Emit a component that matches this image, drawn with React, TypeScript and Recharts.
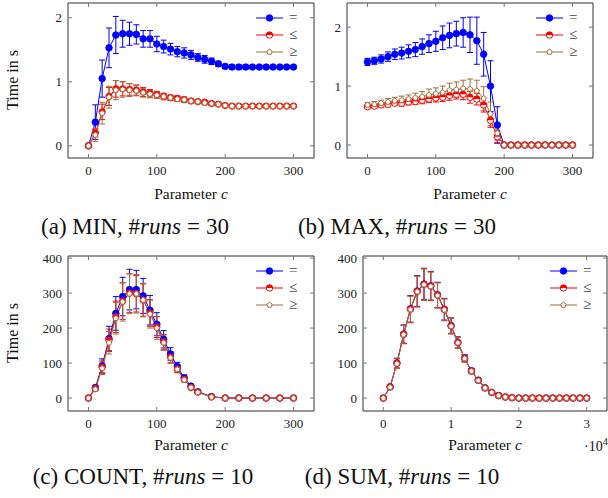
import React from "react";
import { LineChart, Line, XAxis, YAxis, ErrorBar } from "recharts";

// series: relation used in the query
const RELATIONS = ["=", "≤", "≥"];
const SERIES_KEYS = ["eq", "le", "ge"];
const COLORS = ["#0000ff", "#ff0000", "#a46d3c"];
const MARKERS = ["disc", "half", "pentagon"];

// parameter c values
const C_ALL = [0, 10, 20, 30, 40, 50, 60, 70, 80, 90, 100, 110, 120, 130, 140, 150, 160, 170, 180, 190, 200, 210, 220, 230, 240, 250, 260, 270, 280, 290, 300];
const C_COUNT = [0, 10, 20, 30, 40, 50, 60, 70, 80, 90, 100, 110, 120, 130, 140, 150, 160, 180, 200, 220, 240, 260, 280, 300];
const C_SUM = [0, 1000, 2000, 3000, 4000, 5000, 6000, 7000, 8000, 9000, 10000, 11000, 12000, 13000, 14000, 15000, 16000, 17000, 18000, 19000, 20000, 21000, 22000, 23000, 24000, 25000, 26000, 27000, 28000, 29000, 30000];

// (a) MIN
const MIN_EQ = [0, 0.37, 1.05, 1.53, 1.73, 1.75, 1.75, 1.74, 1.67, 1.67, 1.59, 1.55, 1.51, 1.47, 1.45, 1.42, 1.38, 1.35, 1.32, 1.28, 1.24, 1.23, 1.23, 1.23, 1.23, 1.23, 1.23, 1.23, 1.23, 1.23, 1.23];
const MIN_EQ_ERR = [0, 0.27, 0.29, 0.31, 0.29, 0.21, 0.18, 0.15, 0.13, 0.13, 0.12, 0.1, 0.09, 0.08, 0.08, 0.07, 0.06, 0.06, 0.05, 0.04, 0.03, 0.03, 0.03, 0.03, 0.02, 0.02, 0.02, 0.02, 0.02, 0.02, 0.02];
const MIN_LE = [0, 0.2, 0.53, 0.77, 0.89, 0.89, 0.88, 0.87, 0.84, 0.82, 0.8, 0.77, 0.75, 0.74, 0.72, 0.7, 0.69, 0.68, 0.66, 0.65, 0.63, 0.62, 0.62, 0.62, 0.62, 0.62, 0.62, 0.62, 0.62, 0.62, 0.62];
const MIN_LE_ERR = [0, 0.06, 0.12, 0.14, 0.13, 0.11, 0.09, 0.08, 0.07, 0.06, 0.05, 0.05, 0.04, 0.04, 0.04, 0.03, 0.03, 0.03, 0.03, 0.02, 0.02, 0.02, 0.02, 0.02, 0.02, 0.02, 0.02, 0.02, 0.02, 0.02, 0.02];
const MIN_GE = [0, 0.17, 0.51, 0.76, 0.87, 0.88, 0.87, 0.86, 0.83, 0.81, 0.79, 0.77, 0.75, 0.73, 0.72, 0.7, 0.69, 0.67, 0.66, 0.65, 0.63, 0.62, 0.62, 0.62, 0.62, 0.62, 0.62, 0.62, 0.62, 0.62, 0.62];
const MIN_GE_ERR = [0, 0.1, 0.17, 0.17, 0.15, 0.12, 0.1, 0.08, 0.07, 0.06, 0.05, 0.05, 0.04, 0.04, 0.04, 0.03, 0.03, 0.03, 0.03, 0.02, 0.02, 0.02, 0.02, 0.02, 0.02, 0.02, 0.02, 0.02, 0.02, 0.02, 0.02];

// (b) MAX
const MAX_EQ = [1.41, 1.43, 1.46, 1.5, 1.54, 1.56, 1.59, 1.62, 1.67, 1.72, 1.76, 1.82, 1.86, 1.89, 1.91, 1.87, 1.77, 1.54, 1.0, 0.34, 0, 0, 0, 0, 0, 0, 0, 0, 0, 0, 0];
const MAX_EQ_ERR = [0.06, 0.06, 0.07, 0.08, 0.09, 0.1, 0.11, 0.12, 0.13, 0.15, 0.17, 0.2, 0.21, 0.21, 0.25, 0.3, 0.4, 0.37, 0.43, 0.31, 0, 0, 0, 0, 0, 0, 0, 0, 0, 0, 0];
const MAX_LE = [0.65, 0.66, 0.68, 0.69, 0.71, 0.71, 0.73, 0.74, 0.76, 0.78, 0.8, 0.81, 0.84, 0.86, 0.86, 0.81, 0.78, 0.68, 0.42, 0.14, 0, 0, 0, 0, 0, 0, 0, 0, 0, 0, 0];
const MAX_LE_ERR = [0.03, 0.03, 0.04, 0.04, 0.04, 0.05, 0.05, 0.05, 0.06, 0.06, 0.07, 0.07, 0.08, 0.08, 0.09, 0.1, 0.1, 0.12, 0.12, 0.1, 0, 0, 0, 0, 0, 0, 0, 0, 0, 0, 0];
const MAX_GE = [0.68, 0.69, 0.71, 0.73, 0.75, 0.76, 0.78, 0.8, 0.82, 0.85, 0.87, 0.89, 0.93, 0.94, 0.96, 0.95, 0.92, 0.79, 0.53, 0.2, 0, 0, 0, 0, 0, 0, 0, 0, 0, 0, 0];
const MAX_GE_ERR = [0.04, 0.05, 0.05, 0.06, 0.06, 0.07, 0.07, 0.08, 0.09, 0.1, 0.1, 0.11, 0.12, 0.13, 0.14, 0.17, 0.18, 0.2, 0.2, 0.12, 0, 0, 0, 0, 0, 0, 0, 0, 0, 0, 0];

// (c) COUNT
const CNT_EQ = [0, 30, 92, 170, 242, 290, 310, 310, 292, 251, 211, 168, 126, 90, 58, 34, 18, 4, 0, 0, 0, 0, 0, 0];
const CNT_EQ_ERR = [0, 6, 20, 35, 48, 55, 58, 55, 50, 42, 33, 25, 18, 12, 8, 5, 3, 1, 0, 0, 0, 0, 0, 0];
const CNT_LE = [0, 27, 88, 165, 232, 277, 300, 298, 280, 243, 203, 160, 117, 83, 53, 30, 17, 3, 0, 0, 0, 0, 0, 0];
const CNT_LE_ERR = [0, 5, 18, 32, 45, 52, 55, 52, 46, 38, 30, 22, 16, 10, 6, 4, 3, 1, 0, 0, 0, 0, 0, 0];
const CNT_GE = [0, 25, 85, 158, 228, 275, 298, 298, 280, 240, 200, 158, 115, 82, 52, 30, 16, 3, 0, 0, 0, 0, 0, 0];
const CNT_GE_ERR = [0, 5, 18, 32, 45, 55, 57, 55, 48, 40, 32, 22, 16, 10, 6, 4, 3, 1, 0, 0, 0, 0, 0, 0];

// (d) SUM
const SUM_EQ = [0, 32, 100, 183, 255, 306, 326, 321, 295, 254, 207, 159, 114, 78, 51, 29, 16, 7, 3, 1, 0, 0, 0, 0, 0, 0, 0, 0, 0, 0, 0];
const SUM_EQ_ERR = [0, 3, 14, 26, 38, 44, 45, 41, 36, 31, 22, 16, 10, 7, 4, 3, 2, 1, 0, 0, 0, 0, 0, 0, 0, 0, 0, 0, 0, 0, 0];
const SUM_LE = [0, 32, 99, 182, 254, 305, 325, 320, 294, 253, 206, 158, 113, 77, 51, 29, 16, 7, 3, 1, 0, 0, 0, 0, 0, 0, 0, 0, 0, 0, 0];
const SUM_LE_ERR = [0, 3, 14, 26, 38, 44, 45, 41, 36, 31, 22, 16, 10, 7, 4, 3, 2, 1, 0, 0, 0, 0, 0, 0, 0, 0, 0, 0, 0, 0, 0];
const SUM_GE = [0, 31, 98, 181, 253, 304, 324, 319, 293, 252, 205, 158, 113, 77, 50, 29, 16, 7, 3, 1, 0, 0, 0, 0, 0, 0, 0, 0, 0, 0, 0];
const SUM_GE_ERR = [0, 3, 14, 26, 38, 44, 45, 41, 36, 31, 22, 16, 10, 7, 4, 3, 2, 1, 0, 0, 0, 0, 0, 0, 0, 0, 0, 0, 0, 0, 0];

const TICKS_C = [0, 100, 200, 300];
const TICKS_SUM = [0, 10000, 20000, 30000];
const TICKS_SEC = [0, 1, 2];
const TICKS_COUNT = [0, 100, 200, 300, 400];

const CAPTIONS = ["(a) MIN, ", "(b) MAX, ", "(c) COUNT, ", "(d) SUM, "];
const RUNS = [30, 30, 10, 10];

const SERIF = '"Liberation Serif", "Times New Roman", serif';
const AXIS = "#333";
const TICK = "#777";

function rows(x, eq, eqErr, le, leErr, ge, geErr) {
  return x.map((v, i) => ({
    x: v,
    eq: eq[i], eqErr: eqErr[i],
    le: le[i], leErr: leErr[i],
    ge: ge[i], geErr: geErr[i],
  }));
}

function drawMarker(kind, cx, cy, color, key?) {
  if (kind === "disc") {
    return <circle key={key} cx={cx} cy={cy} r={3.3} fill={color} stroke={color} strokeWidth={0.8} />;
  }
  if (kind === "half") {
    const r = 3.2;
    return (
      <g key={key}>
        <circle cx={cx} cy={cy} r={r} fill="#fff" stroke={color} strokeWidth={1} />
        <path d={`M${cx - r},${cy} A${r},${r} 0 0 1 ${cx + r},${cy} Z`} fill={color} />
      </g>
    );
  }
  const r = 2.8;
  const pts = [0, 1, 2, 3, 4]
    .map((k) => {
      const a = -Math.PI / 2 + (k * 2 * Math.PI) / 5;
      return `${cx + r * Math.cos(a)},${cy + r * Math.sin(a)}`;
    })
    .join(" ");
  return <polygon key={key} points={pts} fill="#fff" stroke={color} strokeWidth={1} />;
}

// axes are 1px thick so recharts still draws them; ticks point inwards
const BottomTick = ({ x, y, payload, fmt }: any) => (
  <g>
    <line x1={x} y1={y} x2={x} y2={y - 4} stroke={TICK} />
    <text x={x} y={y + 12} dy="0.35em" textAnchor="middle" fontFamily={SERIF} fontSize={13} fill="#222">
      {fmt ? fmt(payload.value) : payload.value}
    </text>
  </g>
);
const TopTick = ({ x, y }: any) => <line x1={x} y1={y} x2={x} y2={y + 4} stroke={TICK} />;
const LeftTick = ({ x, y, payload }: any) => (
  <g>
    <line x1={x} y1={y} x2={x + 4} y2={y} stroke={TICK} />
    <text x={x - 6} y={y} dy="0.35em" textAnchor="end" fontFamily={SERIF} fontSize={13} fill="#222">
      {payload.value}
    </text>
  </g>
);
const RightTick = ({ x, y }: any) => <line x1={x} y1={y} x2={x - 4} y2={y} stroke={TICK} />;

function Legend({ left, top }) {
  return (
    <div style={{ position: "absolute", left, top }}>
      {RELATIONS.map((rel, i) => (
        <div key={rel} style={{ display: "flex", alignItems: "center", height: 17 }}>
          <svg width={27} height={12}>
            <line x1={0} y1={6} x2={27} y2={6} stroke={COLORS[i]} strokeWidth={1} />
            {drawMarker(MARKERS[i], 13.5, 6, COLORS[i])}
          </svg>
          <span style={{ marginLeft: 6, fontFamily: SERIF, fontSize: 15, color: "#444", lineHeight: "15px" }}>{rel}</span>
        </div>
      ))}
    </div>
  );
}

function Panel({ data, left, top, width, height, box, xDomain, xTicks, yDomain, yTicks, xFmt }: any) {
  // box = [left, top, right, bottom] of the plot frame inside the chart
  const margin = { left: box[0] - 1, top: box[1] - 1, right: width - box[2] - 1, bottom: height - box[3] - 1 };
  return (
    <div style={{ position: "absolute", left, top }}>
      <LineChart width={width} height={height} data={data} margin={margin}>
        <XAxis xAxisId="b" type="number" dataKey="x" domain={xDomain} ticks={xTicks} interval={0} allowDataOverflow
          height={1} tickSize={0} tickMargin={0} tickLine={false} axisLine={{ stroke: AXIS }}
          tick={(p) => <BottomTick {...p} fmt={xFmt} />} />
        <XAxis xAxisId="t" orientation="top" type="number" dataKey="x" domain={xDomain} ticks={xTicks} interval={0} allowDataOverflow
          height={1} tickSize={0} tickMargin={0} tickLine={false} axisLine={{ stroke: AXIS }}
          tick={(p) => <TopTick {...p} />} />
        <YAxis yAxisId="l" type="number" domain={yDomain} ticks={yTicks} interval={0} allowDataOverflow
          width={1} tickSize={0} tickMargin={0} tickLine={false} axisLine={{ stroke: AXIS }}
          tick={(p) => <LeftTick {...p} />} />
        <YAxis yAxisId="r" orientation="right" type="number" domain={yDomain} ticks={yTicks} interval={0} allowDataOverflow
          width={1} tickSize={0} tickMargin={0} tickLine={false} axisLine={{ stroke: AXIS }}
          tick={(p) => <RightTick {...p} />} />
        {SERIES_KEYS.map((k, i) => (
          <Line key={k} xAxisId="b" yAxisId="l" dataKey={k} stroke={COLORS[i]} strokeWidth={1}
            isAnimationActive={false}
            dot={(p) => drawMarker(MARKERS[i], p.cx, p.cy, COLORS[i], `${k}-${p.index}`)}
            activeDot={false}>
            <ErrorBar dataKey={`${k}Err`} direction="y" width={3} stroke={COLORS[i]} strokeWidth={1} isAnimationActive={false} />
          </Line>
        ))}
      </LineChart>
    </div>
  );
}

const textStyle: React.CSSProperties = { position: "absolute", fontFamily: SERIF, fontWeight: 400, color: "#111", whiteSpace: "nowrap" };

function AxisTitleX({ cx, y }) {
  return (
    <div style={{ ...textStyle, left: cx - 60, width: 120, top: y - 8, textAlign: "center", fontSize: 15.5, lineHeight: "18px" }}>
      Parameter <i>c</i>
    </div>
  );
}

function AxisTitleY({ x, cy }) {
  return (
    <div style={{ ...textStyle, left: x - 50, width: 100, top: cy - 9, textAlign: "center", fontSize: 16, lineHeight: "18px", transform: "rotate(-90deg)" }}>
      Time in s
    </div>
  );
}

function Caption({ i, cx, cy }) {
  return (
    <div style={{ ...textStyle, left: cx - 150, width: 300, top: cy - 13, textAlign: "center", fontSize: 23, lineHeight: "26px" }}>
      {CAPTIONS[i]}#<i>runs</i>
      <span style={{ margin: "0 6px" }}>=</span>
      {RUNS[i]}
    </div>
  );
}

export default function App() {
  const minData = rows(C_ALL, MIN_EQ, MIN_EQ_ERR, MIN_LE, MIN_LE_ERR, MIN_GE, MIN_GE_ERR);
  const maxData = rows(C_ALL, MAX_EQ, MAX_EQ_ERR, MAX_LE, MAX_LE_ERR, MAX_GE, MAX_GE_ERR);
  const cntData = rows(C_COUNT, CNT_EQ, CNT_EQ_ERR, CNT_LE, CNT_LE_ERR, CNT_GE, CNT_GE_ERR);
  const sumData = rows(C_SUM, SUM_EQ, SUM_EQ_ERR, SUM_LE, SUM_LE_ERR, SUM_GE, SUM_GE_ERR);

  return (
    <div style={{ position: "absolute", left: 0, top: 0, width: 608, height: 498, overflow: "hidden", background: "#fff" }}>
      <Panel data={minData} left={0} top={0} width={320} height={200} box={[68, 3, 314, 158]}
        xDomain={[-30, 330]} xTicks={TICKS_C} yDomain={[-0.19, 2.23]} yTicks={TICKS_SEC} />
      <Panel data={maxData} left={300} top={0} width={300} height={200} box={[47, 3, 293, 158]}
        xDomain={[-30, 330]} xTicks={TICKS_C} yDomain={[-0.22, 2.41]} yTicks={TICKS_SEC} />
      <Panel data={cntData} left={0} top={250} width={320} height={200} box={[68, 6, 314, 161]}
        xDomain={[-30, 330]} xTicks={TICKS_C} yDomain={[-37, 406]} yTicks={TICKS_COUNT} />
      <Panel data={sumData} left={300} top={250} width={308} height={200} box={[63, 6, 307, 161]}
        xDomain={[-3000, 33000]} xTicks={TICKS_SUM} yDomain={[-37, 406]} yTicks={TICKS_COUNT}
        xFmt={(v) => v / 10000} />

      <Legend left={256} top={9} />
      <Legend left={536} top={9} />
      <Legend left={256} top={262} />
      <Legend left={550} top={262} />

      <AxisTitleY x={13} cy={80} />
      <AxisTitleY x={13} cy={333} />
      <AxisTitleX cx={191} y={193} />
      <AxisTitleX cx={470} y={193} />
      <AxisTitleX cx={191} y={444} />
      <AxisTitleX cx={485} y={444} />
      <div style={{ ...textStyle, left: 584, top: 434, fontSize: 14, lineHeight: "16px" }}>
        ·10<sup style={{ fontSize: 10 }}>4</sup>
      </div>

      <Caption i={0} cx={135} cy={227} />
      <Caption i={1} cx={397} cy={227} />
      <Caption i={2} cx={143} cy={477} />
      <Caption i={3} cx={402} cy={477} />
    </div>
  );
}
